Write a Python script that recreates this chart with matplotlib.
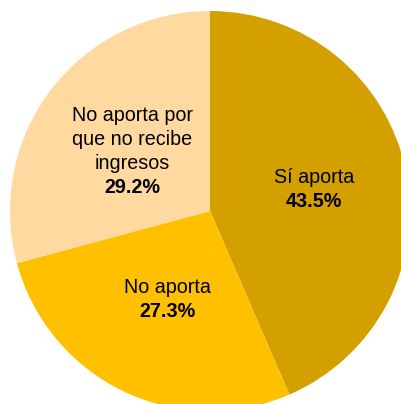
import numpy as np
import matplotlib
matplotlib.use("Agg")
import matplotlib.pyplot as plt

plt.rcParams['font.family'] = ['Liberation Sans', 'DejaVu Sans']

# data
labels = ["Sí aporta", "No aporta", "No aporta por\nque no recibe\ningresos"]
values = [43.5, 27.3, 29.2]
colors = ["#D4A000", "#FFC000", "#FFD9A0"]
label_dist = [0.53, 0.49, 0.49]

fig = plt.figure(figsize=(4.01, 4.04), dpi=100)
ax = fig.add_axes([0, 0, 1, 1])

wedges, _ = ax.pie(values, colors=colors, startangle=90, counterclock=False,
                   radius=1, wedgeprops=dict(linewidth=0))

line_h = 24  # pixels between lines
for w, lab, val, d in zip(wedges, labels, values, label_dist):
    ang = np.deg2rad((w.theta1 + w.theta2) / 2)
    x, y = d * np.cos(ang), d * np.sin(ang)
    lines = lab.split("\n")
    n = len(lines) + 1
    for i, txt in enumerate(lines + ["%.1f%%" % val]):
        off = ((n - 1) / 2 - i) * line_h
        bold = i == n - 1
        ax.annotate(txt, (x, y), xytext=(0, off), textcoords="offset pixels",
                    ha="center", va="center", fontsize=14.2,
                    fontweight="bold" if bold else "normal", color="black")

ax.set_xlim(-1.05, 0.955)
ax.set_ylim(-0.965, 1.055)
ax.set_aspect("auto")
ax.axis("off")

fig.savefig("out.png", dpi=100)
